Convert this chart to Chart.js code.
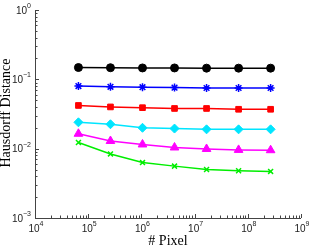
<!DOCTYPE html>
<html>
<head>
<meta charset="utf-8">
<script src="https://cdn.jsdelivr.net/npm/chart.js@4/dist/chart.umd.min.js"></script>
<style>
  html, body { margin: 0; padding: 0; background: #fff; overflow: hidden; }
  #wrap { width: 309px; height: 247px; }
</style>
</head>
<body>
<div id="wrap"><canvas id="myChart"></canvas></div>
<script>
// pixels (x values)
const pixels = [65536, 262144, 1048576, 4194304, 16777216, 67108864, 268435456];

// hausdorff distance per series
const black   = [0.148, 0.147, 0.146, 0.146, 0.145, 0.145, 0.145];
const blue    = [0.080, 0.078, 0.077, 0.076, 0.075, 0.075, 0.075];
const red     = [0.042, 0.040, 0.039, 0.038, 0.038, 0.037, 0.037];
const cyan    = [0.024, 0.0225, 0.020, 0.0195, 0.019, 0.019, 0.019];
const magenta = [0.0164, 0.0129, 0.0115, 0.0104, 0.0099, 0.0096, 0.0095];
const green   = [0.0123, 0.0084, 0.0063, 0.0056, 0.0050, 0.0048, 0.0047];

const xTicks = [4, 5, 6, 7, 8, 9];
const yTicks = [-3, -2, -1, 0];

function pts(vals) {
  return vals.map((v, i) => ({ x: pixels[i], y: v }));
}

function series(vals, color, style, r) {
  return {
    data: pts(vals),
    borderColor: color,
    backgroundColor: color,
    borderWidth: 1.5,
    pointStyle: style,
    pointRadius: r,
    pointBorderWidth: style == "star" || style == "crossRot" ? 1.5 : 1,
    tension: 0,
  };
}

// draws matlab style axes: inward ticks, 10^n labels, titles
const axesPlugin = {
  id: "matlabAxes",
  afterDraw(chart) {
    const ctx = chart.ctx;
    const a = chart.chartArea;
    const xs = chart.scales.x;
    const ys = chart.scales.y;
    ctx.save();
    ctx.strokeStyle = "#444";
    ctx.lineWidth = 1;
    ctx.beginPath();
    ctx.moveTo(a.left + 0.5, a.top);
    ctx.lineTo(a.left + 0.5, a.bottom + 0.5);
    ctx.lineTo(a.right, a.bottom + 0.5);
    ctx.stroke();

    // ticks
    ctx.beginPath();
    for (let e = 4; e < 9; e++) {
      for (let m = 1; m < 10; m++) {
        const px = Math.round(xs.getPixelForValue(m * Math.pow(10, e))) + 0.5;
        const len = m == 1 ? 4 : 2.5;
        ctx.moveTo(px, a.bottom);
        ctx.lineTo(px, a.bottom - len);
      }
    }
    const p9 = Math.round(xs.getPixelForValue(1e9)) + 0.5;
    ctx.moveTo(p9, a.bottom);
    ctx.lineTo(p9, a.bottom - 4);
    for (let e = -3; e < 0; e++) {
      for (let m = 1; m < 10; m++) {
        const py = Math.round(ys.getPixelForValue(m * Math.pow(10, e))) + 0.5;
        const len = m == 1 ? 4 : 2.5;
        ctx.moveTo(a.left, py);
        ctx.lineTo(a.left + len, py);
      }
    }
    const p0 = Math.round(ys.getPixelForValue(1)) + 0.5;
    ctx.moveTo(a.left, p0);
    ctx.lineTo(a.left + 4, p0);
    ctx.stroke();

    // tick labels
    ctx.fillStyle = "#222";
    ctx.textBaseline = "middle";
    xTicks.forEach(e => {
      const px = xs.getPixelForValue(Math.pow(10, e));
      ctx.font = "10px 'Liberation Sans'";
      const w = ctx.measureText("10").width;
      ctx.font = "7px 'Liberation Sans'";
      const we = ctx.measureText(String(e)).width;
      const x0 = px - (w + we) / 2 + 1;
      ctx.font = "10px 'Liberation Sans'";
      ctx.textAlign = "left";
      ctx.fillText("10", x0, a.bottom + 11);
      ctx.font = "7px 'Liberation Sans'";
      ctx.fillText(String(e), x0 + w, a.bottom + 6);
    });
    yTicks.forEach(e => {
      const py = ys.getPixelForValue(Math.pow(10, e));
      ctx.font = "7px 'Liberation Sans'";
      const lab = e < 0 ? "\u2212" + (-e) : String(e);
      const we = ctx.measureText(lab).width;
      ctx.textAlign = "left";
      ctx.fillText(lab, a.left - 4 - we, py - 4);
      ctx.font = "10px 'Liberation Sans'";
      ctx.textAlign = "right";
      ctx.fillText("10", a.left - 4 - we, py + 1);
    });

    // titles
    ctx.fillStyle = "#000";
    ctx.font = "14px 'Liberation Serif'";
    ctx.textAlign = "center";
    ctx.fillText("# Pixel", (a.left + a.right) / 2, 241);
    ctx.translate(6, 113);
    ctx.rotate(-Math.PI / 2);
    ctx.fillText("Hausdorff Distance", 0, 0);
    ctx.restore();
  }
};

const config = {
  type: "line",
  data: {
    datasets: [
      series(black, "#000000", "circle", 4),
      series(blue, "#0000ff", "star", 4),
      series(red, "#ff0000", "rect", 4),
      series(cyan, "#00e5ff", "rectRot", 4.5),
      series(magenta, "#ff00ff", "triangle", 5),
      series(green, "#00ee00", "crossRot", 3.5),
    ],
  },
  plugins: [axesPlugin],
  options: {
    responsive: true,
    maintainAspectRatio: false,
    animation: false,
    layout: {
      padding: { left: 35, right: 8, top: 10, bottom: 29 },
    },
    plugins: {
      legend: { display: false },
      tooltip: { enabled: false },
    },
    scales: {
      x: {
        type: "logarithmic",
        min: 1e4,
        max: 1e9,
        display: false,
      },
      y: {
        type: "logarithmic",
        min: 1e-3,
        max: 1,
        display: false,
      },
    },
  },
};

const myChart = new Chart(document.getElementById("myChart"), config);
</script>
</body>
</html>
